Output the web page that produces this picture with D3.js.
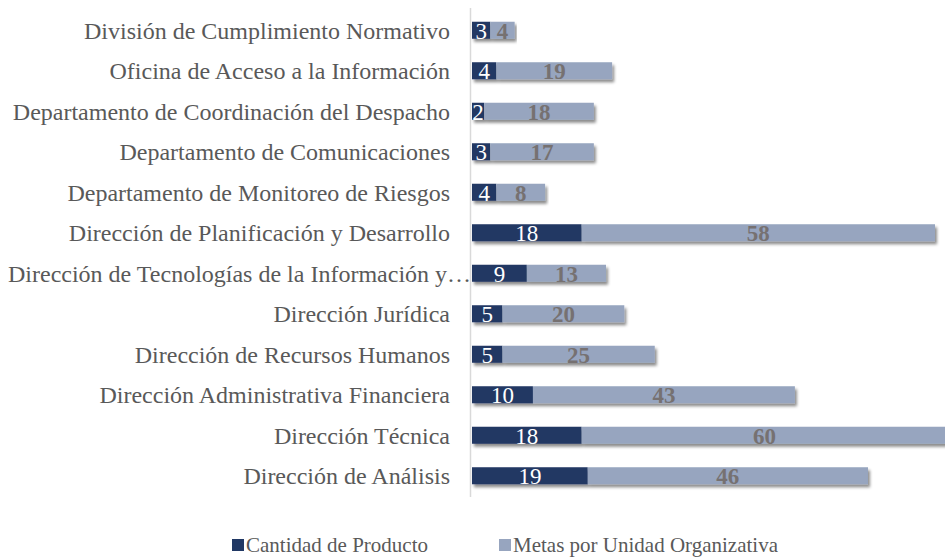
<!DOCTYPE html>
<html>
<head>
<meta charset="utf-8">
<script src="https://cdn.jsdelivr.net/npm/d3@7"></script>
<style>
  body { margin: 0; background: #fff; }
  svg { font-family: "Liberation Serif", "Times New Roman", serif; }
</style>
</head>
<body>
<svg width="945" height="559"></svg>
<script>
// units, top to bottom as drawn
var categories = [
    'División de Cumplimiento Normativo',
    'Oficina de Acceso a la Información',
    'Departamento de Coordinación del Despacho',
    'Departamento de Comunicaciones',
    'Departamento de Monitoreo de Riesgos',
    'Dirección de Planificación y Desarrollo',
    'Dirección de Tecnologías de la Información y…',
    'Dirección Jurídica',
    'Dirección de Recursos Humanos',
    'Dirección Administrativa Financiera',
    'Dirección Técnica',
    'Dirección de Análisis'
];
var producto = [3, 4, 2, 3, 4, 18, 9, 5, 5, 10, 18, 19];
var metas = [4, 19, 18, 17, 8, 58, 13, 20, 25, 43, 60, 46];
var seriesNames = ['Cantidad de Producto', 'Metas por Unidad Organizativa'];

var DARK = '#203864';
var LIGHT = '#97a5bf';

var svg = d3.select('svg');

var defs = svg.append('defs');
defs.append('filter')
    .attr('id', 'shadow')
    .attr('x', '-5%').attr('y', '-30%')
    .attr('width', '110%').attr('height', '180%')
    .append('feDropShadow')
    .attr('dx', 2).attr('dy', 3)
    .attr('stdDeviation', 1.5)
    .attr('flood-color', '#000')
    .attr('flood-opacity', 0.45);

var x0 = 472;
var x = d3.scaleLinear().domain([0, 76]).range([x0, 935]);
var y = d3.scaleBand().domain(categories).range([10, 496]).paddingInner(0.58).paddingOuter(0.29);

var rows = categories.map(function (c, i) {
    return { name: c, p: producto[i], m: metas[i] };
});

// axis line
svg.append('line')
    .attr('x1', 470.5).attr('x2', 470.5)
    .attr('y1', 8).attr('y2', 497)
    .attr('stroke', '#d9d9d9').attr('stroke-width', 1.5);

// category labels, right aligned; the clipped one overflows from the left edge
svg.selectAll('text.cat')
    .data(rows)
    .enter().append('text')
    .attr('class', 'cat')
    .attr('x', 450)
    .attr('y', function (d) { return y(d.name) + y.bandwidth() / 2; })
    .attr('dy', '0.35em')
    .attr('text-anchor', 'end')
    .attr('font-size', 24)
    .attr('fill', '#595959')
    .text(function (d) { return d.name; })
    .each(function () {
        var w = this.getComputedTextLength();
        if (450 - w < 8) {
            d3.select(this).attr('text-anchor', 'start').attr('x', 8);
        }
    });

var bars = svg.selectAll('g.bar')
    .data(rows)
    .enter().append('g')
    .attr('class', 'bar')
    .attr('filter', 'url(#shadow)');

bars.append('rect')
    .attr('x', x(0))
    .attr('y', function (d) { return y(d.name); })
    .attr('width', function (d) { return x(d.p) - x(0); })
    .attr('height', y.bandwidth())
    .attr('fill', DARK);

bars.append('rect')
    .attr('x', function (d) { return x(d.p); })
    .attr('y', function (d) { return y(d.name); })
    .attr('width', function (d) { return x(d.p + d.m) - x(d.p); })
    .attr('height', y.bandwidth())
    .attr('fill', LIGHT);

// value labels
svg.selectAll('text.vp')
    .data(rows)
    .enter().append('text')
    .attr('x', function (d) { return (x(0) + x(d.p)) / 2; })
    .attr('y', function (d) { return y(d.name) + y.bandwidth() / 2; })
    .attr('dy', '0.36em')
    .attr('text-anchor', 'middle')
    .attr('font-size', 23)
    .attr('fill', '#fff')
    .text(function (d) { return d.p; });

svg.selectAll('text.vm')
    .data(rows)
    .enter().append('text')
    .attr('x', function (d) { return (x(d.p) + x(d.p + d.m)) / 2; })
    .attr('y', function (d) { return y(d.name) + y.bandwidth() / 2; })
    .attr('dy', '0.36em')
    .attr('text-anchor', 'middle')
    .attr('font-size', 23)
    .attr('font-weight', 'bold')
    .attr('fill', '#767171')
    .text(function (d) { return d.m; });

// legend
var legendX = [232, 499];
var legend = svg.selectAll('g.legend')
    .data(seriesNames)
    .enter().append('g')
    .attr('transform', function (d, i) { return 'translate(' + legendX[i] + ',545)'; });
legend.append('rect')
    .attr('x', 0).attr('y', -6)
    .attr('width', 12).attr('height', 12)
    .attr('fill', function (d, i) { return i === 0 ? DARK : LIGHT; });
legend.append('text')
    .attr('x', 14)
    .attr('dy', '0.35em')
    .attr('font-size', 21)
    .attr('fill', '#595959')
    .text(function (d) { return d; });
</script>
</body>
</html>
